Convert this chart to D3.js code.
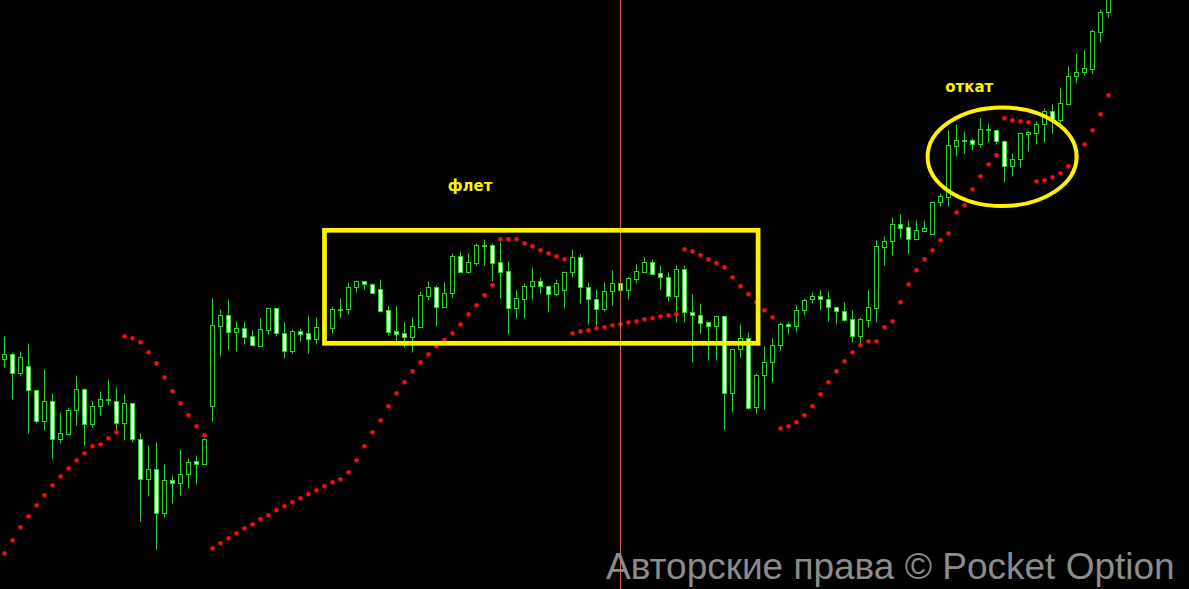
<!DOCTYPE html>
<html>
<head>
<meta charset="utf-8">
<title>Parabolic SAR - флет и откат</title>
<script src="https://d3js.org/d3.v7.min.js"></script>
<style>
  html, body { margin: 0; padding: 0; background: #000; overflow: hidden; }
  svg { display: block; }
  .wick { stroke: #2fd12f; stroke-width: 1px; }
  .body { stroke: #2fd12f; stroke-width: 1px; }
  .note { fill: #fff200; font-family: "DejaVu Sans", sans-serif; font-weight: bold; font-size: 15px; }
  .frame { fill: none; stroke: #fff200; }
</style>
</head>
<body>
<div id="chart"></div>
<script>
// candle prices (arbitrary points), one entry per bar
const opens = [241.3,246,226.7,233.7,209.7,178.7,198.7,161.3,166.3,189.7,210.7,175.7,193.7,200.7,199.3,177.3,196.7,161.3,121.3,130.7,
  87.3,119.7,116.7,125.7,139,136.3,194.3,274.3,284.7,268.3,271.7,263.7,254.3,270.3,291.7,266.7,249.3,269,266.7,260.7,
  272.7,272.3,291.3,291.3,312.7,318.7,315.7,310.7,289.7,268.7,266.7,263.3,273.3,304,312.7,293.3,306.7,343.7,328,337.3,
  354.3,355,337.7,328.7,292.3,301.3,313.7,318.7,313.7,305.7,310.3,327.7,343,312.7,301.3,291.3,308.7,316.7,310.3,321.3,
  328,338,326.7,322.7,303.7,331,287.7,284.7,277.7,273.7,283.7,206.7,250.7,261.7,192.7,224.7,237.7,254.7,275.7,273.7,
  289.7,300.7,304,301,293,288.7,280.7,264.3,280.3,292.3,353.3,359,376,373,361.3,369.3,366.3,397.7,403.3,454.3,
  459,459.7,456.3,470.3,470.3,458.7,433.7,440.7,466.3,467.3,476,489,479.7,496.3,523.7,527.7,531,568.3,587.7];

const highs = [264,248,249.3,257,210,231,207,188,192.7,225,211.7,198.7,209,221,213,205.7,196.7,166.7,155,158,
  136,124.7,151.3,142.3,145,162,302,291,301,279,277.7,270,282,291.7,291.7,278,270.7,272,285,282.7,
  282,294,301.7,318,320,319,316.7,321,294,294,278,282.7,309,319,315,318,346.7,348.7,347,356.7,
  361,356.7,358,338.7,310,316.7,333,322.7,314.7,320.7,328.7,351,346,318,310.7,318,330,323,324,336,
  343,341,335,328,335,335,306.3,297,277.7,284.3,284.3,250.7,276.3,268.3,226.7,254.3,262,278,278,295,
  302,308,310,309,293,298,290,283,310,360,364,383,386,380,380,380,399,407.3,470,476,
  469,462,482,477,471,460,446.7,468.3,469,479,491.7,496,512.7,534,547.3,550,571.3,591,606];

const lows = [233.3,201.3,224,167.3,177.3,170,141.3,157.3,165.3,174.7,155.3,173.3,185.3,195.3,171.3,160.3,158,79.3,104,51.3,
  83.3,96.7,104.7,112.3,116.3,135.7,179.3,244.3,251.3,249.3,256.3,254.3,254.3,265.7,264.3,242.3,246.7,259,247.3,256.3,
  265,266.7,282.7,285.7,307.7,310.7,306.3,288,264.7,259.3,253.3,248.3,272.3,300,274,293.3,303.3,328.3,326.7,335.3,
  335.3,319,302.3,266.3,282.3,282.3,301.3,306.7,288.3,304,292.3,323.3,296.7,276.3,273.3,289.3,295.3,304,301.3,317.3,
  328,326.3,311.3,299.3,278.3,278.3,238.3,267.3,240.3,240.3,171.3,188.3,242.7,191.3,187.3,191.3,218.3,250.3,266.7,268.3,
  285,296.7,290,279.3,276.3,279.3,258.3,257.3,273,278.3,335,345,362.3,347,360,368.3,366,394.3,394.3,444,
  447.3,450,453.3,458.3,455.7,418.3,424.3,433.3,449.3,455.7,458.3,467.3,473.3,496,517.3,525,526.7,558.3,583.3];

const closes = [246,226.7,242.7,209.7,178.7,198.7,161.3,167,189.7,210.7,175.7,193.7,200.7,199.7,177.3,196.7,161.3,121.3,130.7,87.3,
  120,116.7,125.7,138.3,136.3,161.3,274.7,284.7,268.3,271.7,263.3,255.3,270.7,291.7,266.7,249.3,269,266.3,260.7,272.7,
  272.3,290.7,290.7,312.7,318.7,315.7,307.3,289.3,268.3,266.3,263.3,274,304.7,312.7,293.3,306.7,343.7,328.3,337.7,355,
  355,337.3,328.3,292.3,301.7,313.7,318.7,313.7,305.7,316.7,328,343,312.7,301.3,291.3,308.7,316.7,310.3,321.7,329,
  338,326.3,322.7,303.7,331,287.7,284.7,276.7,273.7,283.7,206.7,250.7,261.7,191.7,224.7,237.7,254.7,275.7,273.7,289.7,
  299.7,304,300.7,292.7,288.7,280.3,264.3,280.7,293,353.7,359,376,372.3,361.3,370,372,398,404,455,459.7,
  459.7,456.3,471,471,458.7,433.7,441,466.7,467.7,476,489,479.7,496.7,523.7,527.7,531.7,568.7,587.7,602];

// parabolic SAR value for each bar
const sar = [46.7,59.7,72.7,83.7,94.7,104.7,114.7,123.7,131.7,139.7,146.7,153.7,155.7,161.7,167.7,263.7,261.7,257.7,247.7,236.7,
  222.7,208.7,196.7,184.7,173.7,164.7,51.7,56.7,61.7,66.7,71.7,75.7,80.7,84.7,89.7,93.7,97.7,101.7,105.7,109.7,
  113.7,117.7,120.7,127.7,139.7,153.7,167.7,179.7,193.7,206.7,217.7,228.7,237.7,245.7,253.7,260,266.7,275.7,285.7,294.7,
  304.7,314.7,360.7,360.7,360.7,356.7,353.7,349.7,346.7,343.7,340.7,266.7,268.7,269.7,271.7,272.7,274.7,275.7,277.7,278.7,
  280.7,281.7,283.7,284.7,285.7,350.7,348.7,344.7,340.7,336.7,332.7,322.7,313.7,305.7,297.7,289.7,282.7,171.7,173.7,177.7,
  184.7,193.7,205.7,217.7,228.7,238.7,247.7,254.7,258.7,258.7,272.7,278.7,297.7,315.7,329.7,340.7,349.7,359.7,366.7,387.7,
  394.7,410.7,423.7,435.7,444.7,481.7,479.7,478.7,477.7,418.7,419.7,422.7,426.7,433.7,443.7,455.7,469.7,485.7,504.7];

// annotations, in bar index / price units
const flatBox = { from: 40, to: 94.2, top: 369.7, bottom: 256.7 };
const pullback = { at: 124.7, price: 443.3 };
const labels = [
  { text: "флет", at: 58.2, price: 409 },
  { text: "откат", at: 120.6, price: 508 }
];
const markerBar = 77; // vertical time line
const watermark = "Авторские права © Pocket Option";

const width = 1189, height = 589;

const svg = d3.select("#chart")
  .append("svg")
  .attr("width", width)
  .attr("height", height)
  .style("background", "#000");

const xScale = d3.scaleLinear().domain([0, opens.length - 1]).range([4.5, 1108.5]);
const yScale = d3.scaleLinear().domain([0, 600]).range([600, 0]);
const py = v => Math.round(yScale(v)) + 0.5;

const bars = d3.range(opens.length).map(i => ({
  i, o: opens[i], h: highs[i], l: lows[i], c: closes[i]
}));

// wicks
svg.append("g")
  .selectAll("line")
  .data(bars)
  .join("line")
  .attr("class", "wick")
  .attr("x1", d => xScale(d.i))
  .attr("x2", d => xScale(d.i))
  .attr("y1", d => py(d.h))
  .attr("y2", d => py(d.l));

// bodies: hollow for up bars, filled for down bars
svg.append("g")
  .selectAll("rect")
  .data(bars)
  .join("rect")
  .attr("class", "body")
  .attr("x", d => xScale(d.i) - 2)
  .attr("width", 4)
  .attr("y", d => py(Math.max(d.o, d.c)))
  .attr("height", d => Math.max(1, py(Math.min(d.o, d.c)) - py(Math.max(d.o, d.c))))
  .attr("fill", d => d.c >= d.o ? "#000" : "#e2ffe2");

// SAR dots
svg.append("g")
  .selectAll("circle")
  .data(sar)
  .join("circle")
  .attr("cx", (d, i) => xScale(i))
  .attr("cy", d => yScale(d))
  .attr("r", 2.4)
  .attr("fill", "#e31313");

// vertical line
svg.append("line")
  .attr("x1", xScale(markerBar))
  .attr("x2", xScale(markerBar))
  .attr("y1", 0)
  .attr("y2", height)
  .attr("stroke", "#d4603e")
  .attr("stroke-width", 1);

// flat box
svg.append("rect")
  .attr("class", "frame")
  .attr("stroke-width", 4.7)
  .attr("x", xScale(flatBox.from))
  .attr("y", yScale(flatBox.top))
  .attr("width", xScale(flatBox.to) - xScale(flatBox.from))
  .attr("height", yScale(flatBox.bottom) - yScale(flatBox.top));

// pullback ellipse
svg.append("ellipse")
  .attr("class", "frame")
  .attr("stroke-width", 4)
  .attr("cx", xScale(pullback.at))
  .attr("cy", yScale(pullback.price))
  .attr("rx", 74.5)
  .attr("ry", 49.3);

svg.selectAll("text.note")
  .data(labels)
  .join("text")
  .attr("class", "note")
  .attr("text-anchor", "middle")
  .attr("x", d => xScale(d.at))
  .attr("y", d => yScale(d.price))
  .text(d => d.text);

svg.append("text")
  .attr("x", 606)
  .attr("y", 579)
  .attr("fill", "#8c8c8c")
  .style("font-family", "'Liberation Sans', Arial, sans-serif")
  .style("font-size", "37px")
  .text(watermark);
</script>
</body>
</html>
